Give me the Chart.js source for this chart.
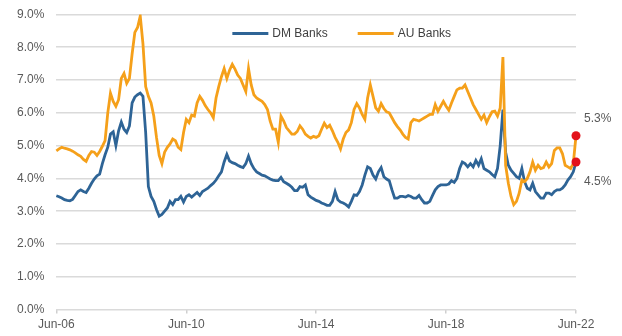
<!DOCTYPE html>
<html lang="en">
<head>
<meta charset="UTF-8">
<title>DM Banks vs AU Banks</title>
<script src="https://cdn.jsdelivr.net/npm/chart.js"></script>
<style>
    html, body { margin: 0; padding: 0; background: #fff; }
    #wrap { width: 622px; height: 336px; }
</style>
</head>
<body>
<div id="wrap"><canvas id="bankChart"></canvas></div>
<script>
// monthly series, Jun-06 .. Jun-22 (values in %)
const dmBanks = [
    3.47, 3.44, 3.4, 3.35, 3.33, 3.32, 3.36, 3.48, 3.6, 3.65, 3.6, 3.57, 3.7, 3.85, 3.98, 4.08, 4.13, 4.45, 4.72, 4.95,
    5.35, 5.42, 5.0, 5.45, 5.72, 5.5, 5.4, 5.6, 6.3, 6.48, 6.55, 6.6, 6.5, 5.4, 3.75, 3.45, 3.3, 3.05, 2.85, 2.9,
    3.0, 3.1, 3.3, 3.2, 3.35, 3.35, 3.45, 3.28, 3.45, 3.5, 3.43, 3.5, 3.57, 3.48, 3.6, 3.65, 3.7, 3.78, 3.85, 3.95,
    4.08, 4.2, 4.5, 4.73, 4.53, 4.48, 4.45, 4.4, 4.36, 4.33, 4.45, 4.68, 4.45, 4.3, 4.2, 4.15, 4.1, 4.08, 4.03, 3.98,
    3.95, 3.93, 3.93, 4.03, 3.9, 3.85, 3.8, 3.73, 3.63, 3.63, 3.75, 3.73, 3.8, 3.5, 3.43, 3.38, 3.33, 3.3, 3.25, 3.22,
    3.18, 3.18, 3.3, 3.6, 3.35, 3.28, 3.25, 3.2, 3.13, 3.3, 3.5, 3.48, 3.6, 3.8, 4.1, 4.35, 4.3, 4.1, 3.98, 4.2,
    4.33, 4.05, 3.98, 3.93, 3.65, 3.4, 3.4, 3.45, 3.45, 3.43, 3.48, 3.45, 3.4, 3.4, 3.48, 3.35, 3.25, 3.25, 3.3, 3.48,
    3.65, 3.75, 3.8, 3.8, 3.8, 3.83, 3.93, 3.88, 4.0, 4.3, 4.5, 4.45, 4.35, 4.45, 4.35, 4.55, 4.4, 4.6, 4.3, 4.25,
    4.2, 4.12, 4.05, 4.3, 5.0, 6.1, 4.8, 4.4, 4.25, 4.15, 4.05, 4.0, 4.3, 3.9, 3.7, 3.65, 3.85, 3.6, 3.5, 3.4,
    3.4, 3.55, 3.55, 3.5, 3.6, 3.65, 3.65, 3.7, 3.8, 3.95, 4.05, 4.2, 4.5
];
const auBanks = [
    4.84, 4.9, 4.95, 4.92, 4.9, 4.87, 4.83, 4.78, 4.72, 4.67, 4.58, 4.52, 4.7, 4.82, 4.8, 4.7, 4.82, 4.98, 5.15, 6.0,
    6.6, 6.35, 6.2, 6.4, 7.05, 7.2, 6.9, 7.05, 7.8, 8.45, 8.6, 8.95, 8.1, 6.8, 6.5, 6.3, 5.9, 5.25, 4.7, 4.45,
    4.8, 4.95, 5.05, 5.2, 5.15, 4.95, 4.88, 5.4, 5.8, 5.7, 5.93, 5.9, 6.3, 6.5, 6.38, 6.22, 6.1, 6.0, 5.85, 6.45,
    6.8, 7.1, 7.35, 7.05, 7.3, 7.48, 7.33, 7.15, 7.05, 6.85, 6.65, 7.35, 6.85, 6.55, 6.45, 6.4, 6.35, 6.25, 6.1, 5.75,
    5.5, 5.5, 5.1, 5.9, 5.75, 5.55, 5.45, 5.35, 5.35, 5.43, 5.6, 5.5, 5.35, 5.28, 5.23, 5.28, 5.25, 5.3, 5.5, 5.68,
    5.55, 5.62, 5.45, 5.25, 5.1, 4.9, 5.2, 5.4, 5.48, 5.7, 6.1, 6.28, 6.15, 5.95, 5.8, 6.45, 6.85, 6.5, 6.15, 6.05,
    6.28, 6.13, 6.03, 6.0, 5.85, 5.7, 5.58, 5.48, 5.35, 5.25, 5.2, 5.7, 5.8, 5.78, 5.75, 5.8, 5.85, 5.9, 5.95, 5.95,
    6.25, 6.05, 6.2, 6.35, 6.2, 6.08, 6.3, 6.5, 6.7, 6.75, 6.75, 6.85, 6.65, 6.45, 6.25, 6.1, 5.95, 5.8, 5.93, 5.7,
    5.88, 6.03, 6.05, 5.9, 6.15, 7.7, 4.4, 3.85, 3.45, 3.2, 3.3, 3.55, 3.95, 3.9, 4.0, 4.2, 4.5, 4.25, 4.4, 4.3,
    4.33, 4.5, 4.35, 4.45, 4.85, 4.93, 4.93, 4.75, 4.4, 4.35, 4.3, 4.45, 5.3
];
const tickLabels = ['Jun-06', 'Jun-10', 'Jun-14', 'Jun-18', 'Jun-22'];
const seriesNames = ['DM Banks', 'AU Banks'];

// month categories Jun-06 .. Jun-22
const monthNames = ['Jan', 'Feb', 'Mar', 'Apr', 'May', 'Jun', 'Jul', 'Aug', 'Sep', 'Oct', 'Nov', 'Dec'];
const months = [];
for (let i = 0; i < dmBanks.length; i++) {
    const mi = (5 + i) % 12;
    const yr = 6 + Math.floor((5 + i) / 12);
    months.push(monthNames[mi] + '-' + String(yr).padStart(2, '0'));
}

const FONT = '"Liberation Sans", Arial, sans-serif';
const TEXT = '#595959';

// legend drawn inside the plot, at the top
const innerLegend = {
    id: 'innerLegend',
    afterDraw(chart) {
        const ctx = chart.ctx;
        const area = chart.chartArea;
        let x = area.left + 176;
        const y = area.top + 19;
        ctx.save();
        ctx.font = '12px ' + FONT;
        ctx.textBaseline = 'middle';
        [0, 1].forEach(i => {
            const ds = chart.data.datasets.find(d => d.label === seriesNames[i]);
            ctx.strokeStyle = ds.borderColor;
            ctx.lineWidth = 3;
            ctx.beginPath();
            ctx.moveTo(x, y);
            ctx.lineTo(x + 36, y);
            ctx.stroke();
            ctx.fillStyle = '#404040';
            ctx.fillText(ds.label, x + 40, y);
            x += 40 + ctx.measureText(ds.label).width + 30;
        });
        ctx.restore();
    }
};

// red dots on the last values, with their labels
const endMarkers = {
    id: 'endMarkers',
    afterDatasetsDraw(chart) {
        const ctx = chart.ctx;
        const lasts = chart.data.datasets.map(d => d.data[d.data.length - 1]);
        const top = Math.max(...lasts);
        ctx.save();
        chart.data.datasets.forEach((ds, i) => {
            const meta = chart.getDatasetMeta(i);
            const pt = meta.data[meta.data.length - 1];
            const val = lasts[i];
            ctx.beginPath();
            ctx.arc(pt.x, pt.y, 4.5, 0, Math.PI * 2);
            ctx.fillStyle = '#e3121b';
            ctx.fill();
            ctx.font = '12px ' + FONT;
            ctx.fillStyle = TEXT;
            ctx.textBaseline = 'middle';
            ctx.fillText(val.toFixed(1) + '%', pt.x + 8, val === top ? pt.y - 17 : pt.y + 20);
        });
        ctx.restore();
    }
};

new Chart(document.getElementById('bankChart'), {
    type: 'line',
    data: {
        labels: months,
        datasets: [
            { label: seriesNames[0], data: dmBanks, borderColor: '#2e6496', borderWidth: 2.8, pointRadius: 0, tension: 0, order: 1 },
            { label: seriesNames[1], data: auBanks, borderColor: '#f5a01a', borderWidth: 2.8, pointRadius: 0, tension: 0, order: 0 }
        ]
    },
    options: {
        responsive: true,
        maintainAspectRatio: false,
        animation: false,
        devicePixelRatio: 1,
        layout: { padding: { left: 5, right: 46, top: 0, bottom: 0 } },
        plugins: { legend: { display: false }, tooltip: { enabled: false } },
        scales: {
            x: {
                border: { display: false },
                grid: { drawOnChartArea: false, tickLength: 4, color: '#cfcfcf', lineWidth: 1.5 },
                ticks: {
                    autoSkip: false,
                    maxRotation: 0,
                    padding: 4,
                    color: TEXT,
                    font: { family: FONT, size: 12 },
                    callback: function (value) {
                        const lab = this.getLabelForValue(value);
                        return tickLabels.includes(lab) ? lab : null;
                    }
                }
            },
            y: {
                min: 0,
                max: 9,
                border: { display: false },
                grid: { color: '#dadada', lineWidth: 1.5, drawTicks: false },
                ticks: {
                    stepSize: 1,
                    padding: 12,
                    color: TEXT,
                    // small lineHeight keeps the axis from reserving extra space above the top tick
                    font: { family: FONT, size: 12, lineHeight: 0.4 },
                    callback: v => v.toFixed(1) + '%'
                }
            }
        }
    },
    plugins: [innerLegend, endMarkers]
});
</script>
</body>
</html>
